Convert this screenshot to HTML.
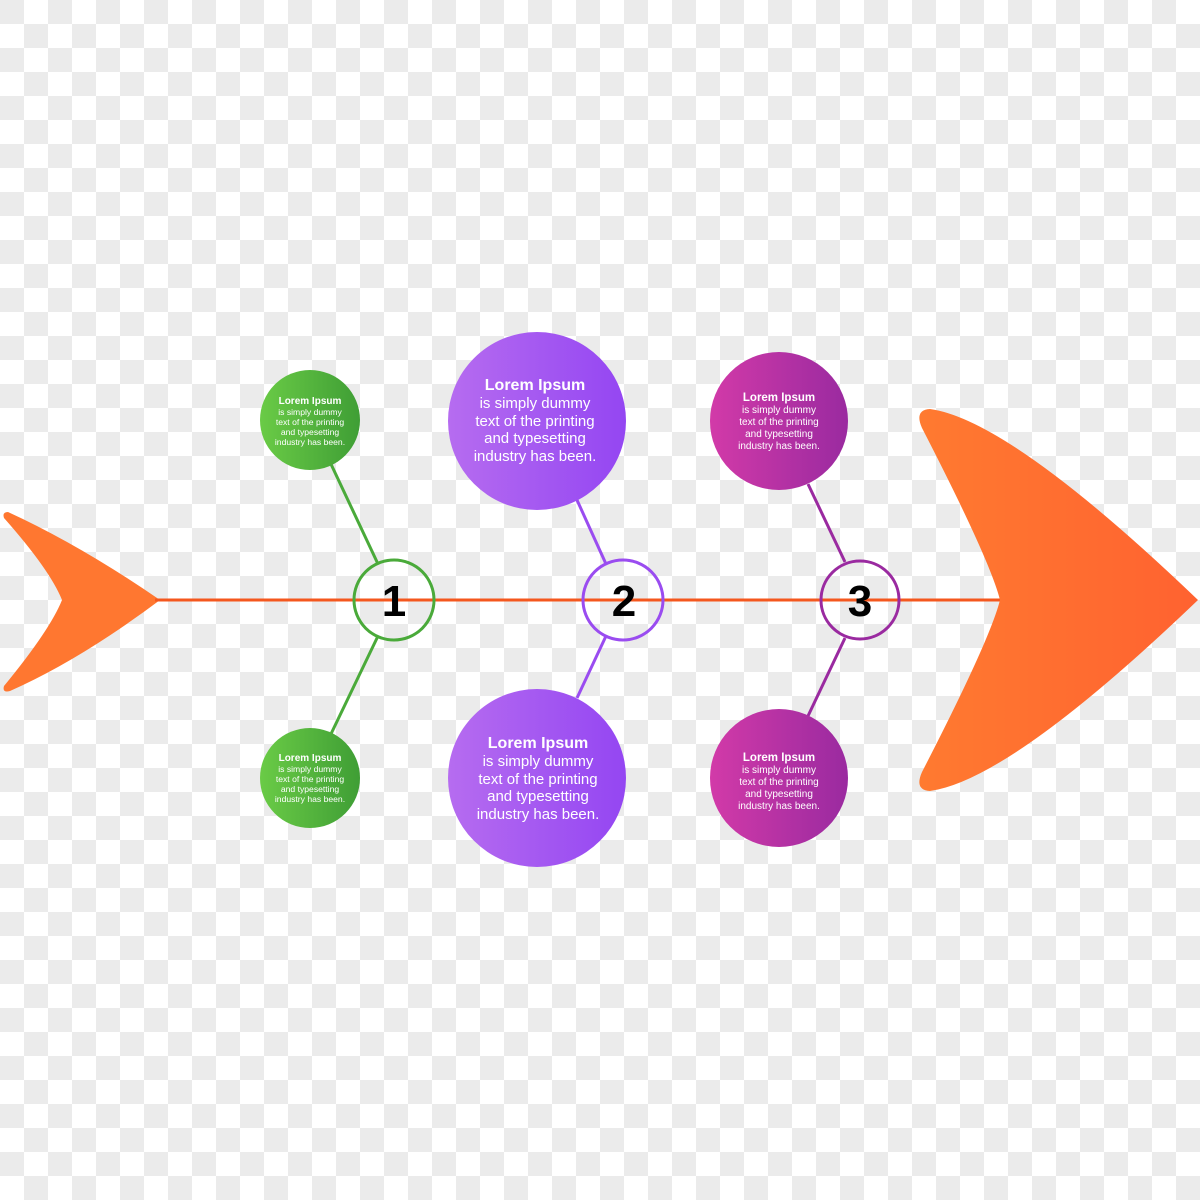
<!DOCTYPE html>
<html><head><meta charset="utf-8"><style>
html,body{margin:0;padding:0;width:1200px;height:1200px;overflow:hidden;}
svg{display:block}
text{font-family:"Liberation Sans",sans-serif;fill:#fff;text-anchor:middle}
.b{font-weight:bold}
.n{font-family:"Liberation Sans",sans-serif;font-weight:bold;fill:#000;font-size:44px}
</style></head><body>
<svg width="1200" height="1200" viewBox="0 0 1200 1200" xmlns="http://www.w3.org/2000/svg">
<defs>
<pattern id="ck" width="48" height="48" patternUnits="userSpaceOnUse">
<rect width="48" height="48" fill="#fff"/>
<rect width="24" height="24" fill="#ebebeb"/>
<rect x="24" y="24" width="24" height="24" fill="#ebebeb"/>
</pattern>
<linearGradient id="gG" x1="0" x2="1"><stop offset="0" stop-color="#6acb46"/><stop offset="1" stop-color="#3f9e35"/></linearGradient>
<linearGradient id="gP" x1="0" x2="1"><stop offset="0" stop-color="#b66cf0"/><stop offset="1" stop-color="#9446f2"/></linearGradient>
<linearGradient id="gM" x1="0" x2="1"><stop offset="0" stop-color="#d23aa8"/><stop offset="1" stop-color="#9a2aa0"/></linearGradient>
<linearGradient id="gO" x1="0" x2="1"><stop offset="0" stop-color="#ff7a30"/><stop offset="1" stop-color="#ff6230"/></linearGradient>
</defs>
<rect width="1200" height="1200" fill="url(#ck)"/>
<!-- tail -->
<path d="M8,512 Q2,512 4,518 Q50,570 62,600 Q50,630 4,686 Q2,693 10,691 Q80,660 160,600 Q80,545 8,512 Z" fill="#ff7730"/>
<!-- spine -->
<line x1="155" y1="600" x2="1002" y2="600" stroke="#f4571e" stroke-width="3"/>
<!-- head -->
<path d="M930,409 Q1010,420 1198,600 Q1010,780 930,791 Q914,790 922,772 Q990,640 1000,600 Q990,560 922,428 Q914,410 930,409 Z" fill="url(#gO)"/>
<!-- connectors -->
<g stroke-width="3" fill="none">
<line x1="330" y1="462" x2="378" y2="564" stroke="#4aaa3a"/>
<line x1="378" y1="636" x2="330" y2="736" stroke="#4aaa3a"/>
<line x1="577" y1="500" x2="606" y2="564" stroke="#9a4cf0"/>
<line x1="606" y1="636" x2="577" y2="698" stroke="#9a4cf0"/>
<line x1="808" y1="484" x2="845" y2="562" stroke="#9a2aa0"/>
<line x1="845" y1="638" x2="808" y2="716" stroke="#9a2aa0"/>
<circle cx="394" cy="600" r="40" stroke="#4aaa3a"/>
<circle cx="623" cy="600" r="40" stroke="#9a4cf0"/>
<circle cx="860" cy="600" r="39" stroke="#9a2aa0"/>
</g>
<text x="394" y="616" class="n" style="text-anchor:middle">1</text>
<text x="624" y="616" class="n" style="text-anchor:middle">2</text>
<text x="860" y="616" class="n" style="text-anchor:middle">3</text>
<!-- green -->
<circle cx="310" cy="420" r="50" fill="url(#gG)"/>
<circle cx="310" cy="778" r="50" fill="url(#gG)"/>
<g font-size="8.6"><text x="310" y="404" class="b" font-size="10">Lorem Ipsum</text><text x="310" y="415">is simply dummy</text><text x="310" y="425">text of the printing</text><text x="310" y="435">and typesetting</text><text x="310" y="445">industry has been.</text></g>
<g font-size="8.6"><text x="310" y="761" class="b" font-size="10">Lorem Ipsum</text><text x="310" y="772">is simply dummy</text><text x="310" y="782">text of the printing</text><text x="310" y="792">and typesetting</text><text x="310" y="802">industry has been.</text></g>
<!-- purple -->
<circle cx="537" cy="421" r="89" fill="url(#gP)"/>
<circle cx="537" cy="778" r="89" fill="url(#gP)"/>
<g font-size="15"><text x="535" y="390" class="b" font-size="16">Lorem Ipsum</text><text x="535" y="408">is simply dummy</text><text x="535" y="426">text of the printing</text><text x="535" y="443">and typesetting</text><text x="535" y="461">industry has been.</text></g>
<g font-size="15"><text x="538" y="748" class="b" font-size="16">Lorem Ipsum</text><text x="538" y="766">is simply dummy</text><text x="538" y="784">text of the printing</text><text x="538" y="801">and typesetting</text><text x="538" y="819">industry has been.</text></g>
<!-- magenta -->
<circle cx="779" cy="421" r="69" fill="url(#gM)"/>
<circle cx="779" cy="778" r="69" fill="url(#gM)"/>
<g font-size="10"><text x="779" y="401" class="b" font-size="11.5">Lorem Ipsum</text><text x="779" y="413">is simply dummy</text><text x="779" y="425">text of the printing</text><text x="779" y="437">and typesetting</text><text x="779" y="449">industry has been.</text></g>
<g font-size="10"><text x="779" y="761" class="b" font-size="11.5">Lorem Ipsum</text><text x="779" y="773">is simply dummy</text><text x="779" y="785">text of the printing</text><text x="779" y="797">and typesetting</text><text x="779" y="809">industry has been.</text></g>
</svg>
</body></html>
